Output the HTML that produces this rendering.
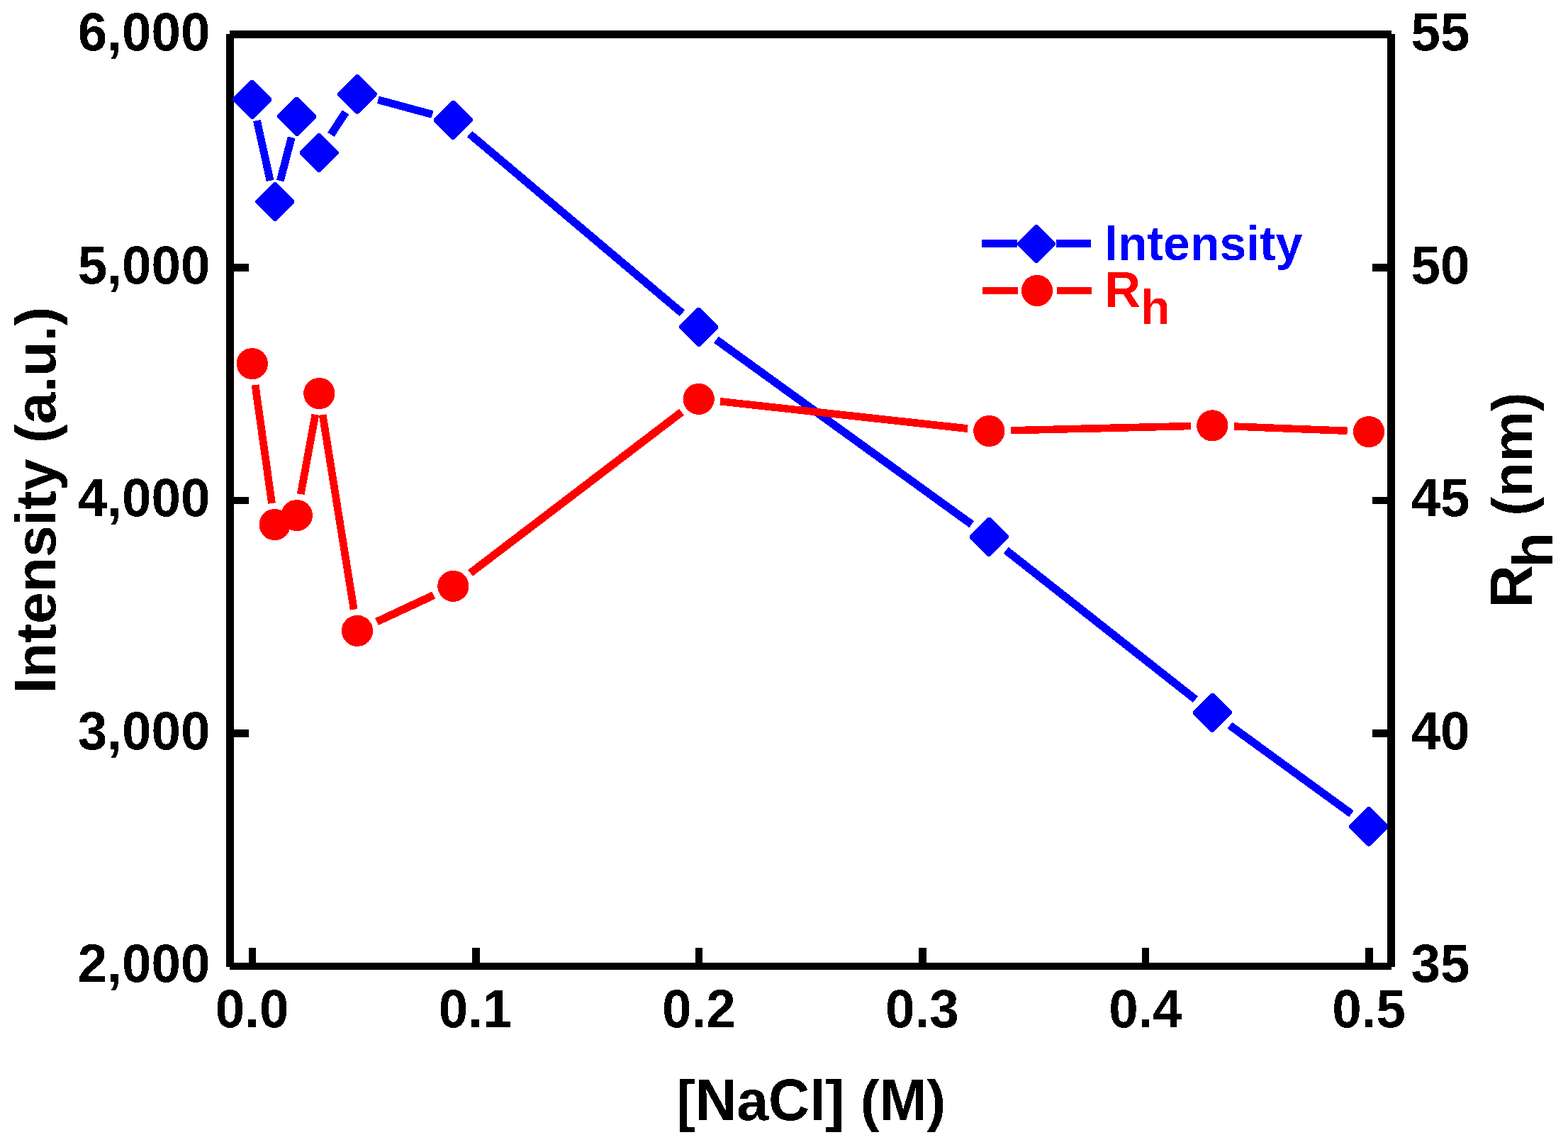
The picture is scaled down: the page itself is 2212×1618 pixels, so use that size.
<!DOCTYPE html>
<html lang="en"><head><meta charset="utf-8"><title>Intensity and Rh vs [NaCl]</title>
<style>
html,body{margin:0;padding:0;background:#fff;}
body{width:2212px;height:1618px;overflow:hidden;}
svg{display:block;}
text{font-family:"Liberation Sans",Arial,Helvetica,sans-serif;font-weight:bold;font-kerning:none;}
.tk{font-size:74.6px;fill:#000;}
.tt{font-size:80.5px;fill:#000;}
.lg{font-size:68px;}
</style></head><body>
<svg width="2212" height="1618" viewBox="0 0 2212 1618">
<defs><filter id="hard" x="0" y="0" width="100%" height="100%" filterUnits="userSpaceOnUse" color-interpolation-filters="sRGB"><feComponentTransfer><feFuncA type="discrete" tableValues="0 1"/></feComponentTransfer></filter></defs>
<rect x="0" y="0" width="2212" height="1618" fill="#ffffff"/>

<g fill="#000" shape-rendering="crispEdges">
<rect x="319" y="48" width="11" height="1316"/>
<rect x="324" y="1358" width="1639" height="10"/>
<rect x="324" y="43" width="1639" height="11"/>
<rect x="351" y="1337" width="10" height="22"/>
<rect x="666" y="1337" width="11" height="22"/>
<rect x="981" y="1337" width="10" height="22"/>
<rect x="1296" y="1337" width="11" height="22"/>
<rect x="1611" y="1337" width="10" height="22"/>
<rect x="1926" y="1337" width="11" height="22"/>
<rect x="329" y="372" width="22" height="11"/>
<rect x="329" y="701" width="22" height="10"/>
<rect x="329" y="1029" width="22" height="11"/>
</g>
<g filter="url(#hard)">
<line x1="362.37" y1="170.03" x2="381.13" y2="254.82" stroke="#0000ff" stroke-width="10.84"/>
<line x1="395.32" y1="255.07" x2="411.18" y2="193.83" stroke="#0000ff" stroke-width="10.89"/>
<line x1="466.87" y1="190.01" x2="487.43" y2="158.39" stroke="#0000ff" stroke-width="11.23"/>
<line x1="533.35" y1="140.82" x2="609.95" y2="161.48" stroke="#0000ff" stroke-width="10.90"/>
<line x1="662.54" y1="188.99" x2="962.46" y2="441.81" stroke="#0000ff" stroke-width="11.29"/>
<line x1="1010.34" y1="479.21" x2="1370.66" y2="739.59" stroke="#0000ff" stroke-width="11.26"/>
<line x1="1419.19" y1="776.21" x2="1686.41" y2="986.59" stroke="#0000ff" stroke-width="11.28"/>
<line x1="1734.89" y1="1023.27" x2="1906.41" y2="1147.93" stroke="#0000ff" stroke-width="11.26"/>
<polygon points="354.20,112.75 357.40,112.75 383.40,138.75 383.40,141.95 357.40,167.95 354.20,167.95 328.20,141.95 328.20,138.75" fill="#0000ff"/>
<polygon points="386.10,256.90 389.30,256.90 415.30,282.90 415.30,286.10 389.30,312.10 386.10,312.10 360.10,286.10 360.10,282.90" fill="#0000ff"/>
<polygon points="417.20,136.80 420.40,136.80 446.40,162.80 446.40,166.00 420.40,192.00 417.20,192.00 391.20,166.00 391.20,162.80" fill="#0000ff"/>
<polygon points="448.70,187.90 451.90,187.90 477.90,213.90 477.90,217.10 451.90,243.10 448.70,243.10 422.70,217.10 422.70,213.90" fill="#0000ff"/>
<polygon points="502.40,105.30 505.60,105.30 531.60,131.30 531.60,134.50 505.60,160.50 502.40,160.50 476.40,134.50 476.40,131.30" fill="#0000ff"/>
<polygon points="637.70,141.80 640.90,141.80 666.90,167.80 666.90,171.00 640.90,197.00 637.70,197.00 611.70,171.00 611.70,167.80" fill="#0000ff"/>
<polygon points="984.10,433.80 987.30,433.80 1013.30,459.80 1013.30,463.00 987.30,489.00 984.10,489.00 958.10,463.00 958.10,459.80" fill="#0000ff"/>
<polygon points="1393.70,729.80 1396.90,729.80 1422.90,755.80 1422.90,759.00 1396.90,785.00 1393.70,785.00 1367.70,759.00 1367.70,755.80" fill="#0000ff"/>
<polygon points="1708.70,977.80 1711.90,977.80 1737.90,1003.80 1737.90,1007.00 1711.90,1033.00 1708.70,1033.00 1682.70,1007.00 1682.70,1003.80" fill="#0000ff"/>
<polygon points="1929.40,1138.20 1932.60,1138.20 1958.60,1164.20 1958.60,1167.40 1932.60,1193.40 1929.40,1193.40 1903.40,1167.40 1903.40,1164.20" fill="#0000ff"/>
</g>
<g filter="url(#hard)">
<line x1="360.03" y1="543.10" x2="383.47" y2="709.90" stroke="#ff0000" stroke-width="10.72"/>
<line x1="424.28" y1="697.10" x2="444.82" y2="584.90" stroke="#ff0000" stroke-width="10.78"/>
<line x1="455.11" y1="585.02" x2="499.19" y2="859.78" stroke="#ff0000" stroke-width="10.75"/>
<line x1="531.56" y1="876.97" x2="611.74" y2="839.63" stroke="#ff0000" stroke-width="11.11"/>
<line x1="663.48" y1="808.38" x2="961.52" y2="581.32" stroke="#ff0000" stroke-width="11.27"/>
<line x1="1015.92" y1="566.23" x2="1365.08" y2="604.67" stroke="#ff0000" stroke-width="10.67"/>
<line x1="1425.69" y1="607.26" x2="1679.91" y2="601.04" stroke="#ff0000" stroke-width="10.54"/>
<line x1="1740.68" y1="601.50" x2="1900.62" y2="607.80" stroke="#ff0000" stroke-width="10.56"/>
<circle cx="355.8" cy="513" r="22.1" fill="#ff0000"/>
<circle cx="387.7" cy="740" r="22.1" fill="#ff0000"/>
<circle cx="418.8" cy="727" r="22.1" fill="#ff0000"/>
<circle cx="450.3" cy="555" r="22.1" fill="#ff0000"/>
<circle cx="504.0" cy="889.8" r="22.1" fill="#ff0000"/>
<circle cx="639.3" cy="826.8" r="22.1" fill="#ff0000"/>
<circle cx="985.7" cy="562.9" r="22.1" fill="#ff0000"/>
<circle cx="1395.3" cy="608.0" r="22.1" fill="#ff0000"/>
<circle cx="1710.3" cy="600.3" r="22.1" fill="#ff0000"/>
<circle cx="1931.0" cy="609.0" r="22.1" fill="#ff0000"/>
</g>
<g fill="#000" shape-rendering="crispEdges">
<rect x="1957" y="48" width="11" height="1316"/>
<rect x="1936" y="372" width="22" height="11"/>
<rect x="1936" y="701" width="22" height="10"/>
<rect x="1936" y="1029" width="22" height="11"/>
</g>
<g filter="url(#hard)">
<text class="tk" transform="translate(296.4,71) scale(1,1.03)" text-anchor="end">6,000</text>
<text class="tk" transform="translate(296.4,399.75) scale(1,1.03)" text-anchor="end">5,000</text>
<text class="tk" transform="translate(296.4,728) scale(1,1.03)" text-anchor="end">4,000</text>
<text class="tk" transform="translate(296.4,1056.75) scale(1,1.03)" text-anchor="end">3,000</text>
<text class="tk" transform="translate(296.4,1385) scale(1,1.03)" text-anchor="end">2,000</text>
<text class="tk" transform="translate(1990.6,71) scale(1,1.03)" text-anchor="start">55</text>
<text class="tk" transform="translate(1990.6,399.75) scale(1,1.03)" text-anchor="start">50</text>
<text class="tk" transform="translate(1990.6,728) scale(1,1.03)" text-anchor="start">45</text>
<text class="tk" transform="translate(1990.6,1056.75) scale(1,1.03)" text-anchor="start">40</text>
<text class="tk" transform="translate(1990.6,1385) scale(1,1.03)" text-anchor="start">35</text>
<text class="tk" transform="translate(355.6,1449) scale(1,1.03)" text-anchor="middle">0.0</text>
<text class="tk" transform="translate(670.7,1449) scale(1,1.03)" text-anchor="middle">0.1</text>
<text class="tk" transform="translate(985.8,1449) scale(1,1.03)" text-anchor="middle">0.2</text>
<text class="tk" transform="translate(1300.9,1449) scale(1,1.03)" text-anchor="middle">0.3</text>
<text class="tk" transform="translate(1616.0,1449) scale(1,1.03)" text-anchor="middle">0.4</text>
<text class="tk" transform="translate(1931.1,1449) scale(1,1.03)" text-anchor="middle">0.5</text>
<text class="tt" x="1144.3" y="1579.9" text-anchor="middle">[<tspan font-size="83.72px" textLength="58.13" lengthAdjust="spacingAndGlyphs">N</tspan>a<tspan font-size="83.72px" textLength="58.13" lengthAdjust="spacingAndGlyphs">C</tspan>l] (<tspan font-size="83.72px" textLength="67.06" lengthAdjust="spacingAndGlyphs">M</tspan>)</text>
<text class="tt" transform="translate(78.1,705.5) rotate(-90)" text-anchor="middle"><tspan font-size="83.72px" textLength="22.37" lengthAdjust="spacingAndGlyphs">I</tspan>ntensity (a.u.)</text>
<text class="tt" transform="translate(2160.9,857.5) rotate(-90)" text-anchor="start"><tspan font-size="83.72px">R</tspan><tspan dy="29.1" dx="-3.2">h</tspan><tspan dy="-29.1" dx="0.9"> (nm)</tspan></text>
</g>
<g shape-rendering="crispEdges">
<rect x="1385" y="338" width="50" height="11" fill="#0000ff"/>
<rect x="1490" y="338" width="49" height="11" fill="#0000ff"/>
<polygon points="1460.45,316.85 1463.65,316.85 1489.10,342.30 1489.10,345.50 1463.65,370.95 1460.45,370.95 1435.00,345.50 1435.00,342.30" fill="#0000ff"/>
<rect x="1386" y="405" width="50" height="10" fill="#ff0000"/>
<rect x="1491" y="405" width="49" height="10" fill="#ff0000"/>
<circle cx="1463" cy="409.9" r="22.1" fill="#ff0000"/>
</g>
<g filter="url(#hard)">
<text class="lg" x="1558" y="366.9" fill="#0000ff"><tspan font-size="70.72px" textLength="18.89" lengthAdjust="spacingAndGlyphs">I</tspan>ntensity</text>
<text class="lg" x="1558" y="432.7" fill="#ff0000"><tspan font-size="70.72px">R</tspan><tspan dy="24">h</tspan></text>
</g>
</svg></body></html>
